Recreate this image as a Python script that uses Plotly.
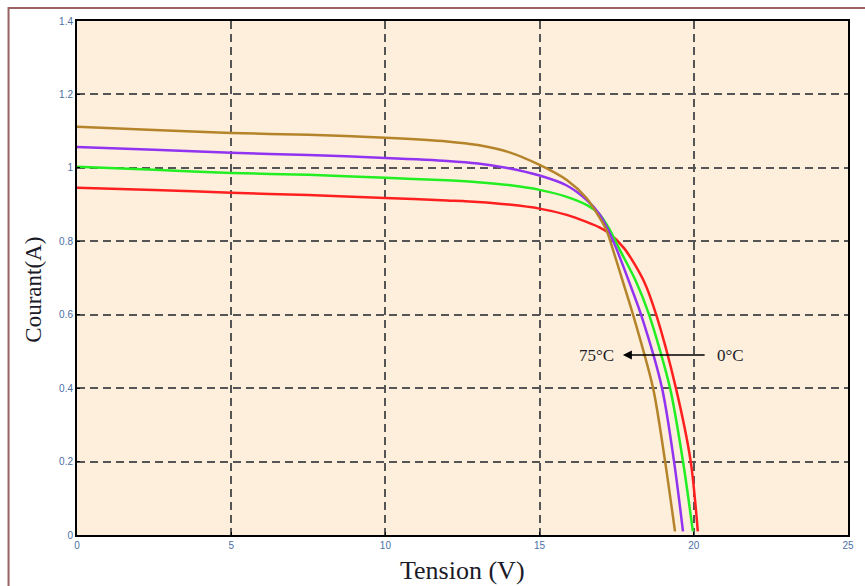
import plotly.graph_objects as go

# Data
v_75 = [0, 2.5, 5, 7.5, 10, 12.0, 13.0, 14.0, 15.0, 15.88, 16.52, 16.94, 17.17, 17.33, 17.7, 18.03, 18.68, 19.07, 19.39]
i_75 = [1.112, 1.103, 1.095, 1.09, 1.082, 1.072, 1.062, 1.043, 1.008, 0.967, 0.918, 0.865, 0.83, 0.79, 0.69, 0.6, 0.4, 0.2, 0.01]

v_50 = [0, 2.5, 5, 7.5, 10, 12.0, 13.0, 14.0, 15.0, 15.88, 16.52, 16.94, 17.2, 17.49, 17.9, 18.29, 18.97, 19.36, 19.65]
i_50 = [1.057, 1.049, 1.041, 1.035, 1.027, 1.019, 1.012, 0.999, 0.979, 0.952, 0.913, 0.874, 0.835, 0.78, 0.69, 0.6, 0.4, 0.2, 0.01]

v_25 = [0, 2.5, 5, 7.5, 10, 12.0, 13.0, 14.0, 15.0, 15.88, 16.52, 16.94, 17.25, 17.58, 18.13, 18.55, 19.23, 19.65, 19.97]
i_25 = [1.003, 0.995, 0.986, 0.981, 0.973, 0.966, 0.961, 0.953, 0.94, 0.921, 0.899, 0.874, 0.835, 0.78, 0.69, 0.6, 0.4, 0.2, 0.01]

v_0 = [0, 2.5, 5, 7.5, 10, 12.0, 13.0, 14.0, 15.0, 15.88, 16.52, 16.94, 17.2, 17.75, 18.39, 18.78, 19.42, 19.9, 20.13]
i_0 = [0.946, 0.94, 0.932, 0.926, 0.918, 0.911, 0.907, 0.9, 0.889, 0.872, 0.853, 0.838, 0.825, 0.78, 0.69, 0.6, 0.4, 0.2, 0.01]

x_ticks = [0, 5, 10, 15, 20, 25]
x_labels = ["0", "5", "10", "15", "20", "25"]
y_ticks = [0, 0.2, 0.4, 0.6, 0.8, 1.0, 1.2, 1.4]
y_labels = ["0", "0.2", "0.4", "0.6", "0.8", "1", "1.2", "1.4"]

series = [
    (v_0, i_0, "#ff1f1f", "0°C"),
    (v_25, i_25, "#22ee22", "25°C"),
    (v_50, i_50, "#9133f0", "50°C"),
    (v_75, i_75, "#b5842a", "75°C"),
]

fig = go.Figure()
for vx, iy, col, name in series:
    fig.add_trace(go.Scatter(x=vx, y=iy, mode="lines", name=name,
                             line=dict(color=col, width=2.5, shape="spline", smoothing=0.8),
                             showlegend=False, hoverinfo="skip"))

tick_font = dict(family="Liberation Sans, Arial, sans-serif", size=10, color="#4a6fa5")
axis_common = dict(
    showgrid=True, gridcolor="#555555", gridwidth=2, griddash="8px,5px",
    showline=True, linecolor="black", linewidth=2, mirror=True,
    zeroline=False, ticks="inside", ticklen=3, tickcolor="black",
    tickfont=tick_font,
)

fig.update_xaxes(range=[0, 25], tickvals=x_ticks, ticktext=x_labels, **axis_common)
fig.update_yaxes(range=[0, 1.4], tickvals=y_ticks, ticktext=y_labels, **axis_common)

serif = "Liberation Serif, DejaVu Serif, serif"
annotations = [
    dict(x=-0.056, y=0.477, xref="paper", yref="paper", text="Courant(A)", showarrow=False,
         textangle=-90, font=dict(family=serif, size=23, color="#1b1b28"), xanchor="center", yanchor="middle"),
    dict(x=0.4994, y=-0.070, xref="paper", yref="paper", text="Tension (V)", showarrow=False,
         font=dict(family=serif, size=26, color="#1b1b28"), xanchor="center", yanchor="middle"),
    dict(x=17.7, y=0.49, xref="x", yref="y", ax=20.4, ay=0.49, axref="x", ayref="y",
         text="", showarrow=True, arrowhead=2, arrowsize=1.2, arrowwidth=1.5, arrowcolor="black"),
    dict(x=16.85, y=0.49, xref="x", yref="y", text="75°C", showarrow=False,
         font=dict(family=serif, size=17, color="#1b1b28")),
    dict(x=21.2, y=0.49, xref="x", yref="y", text="0°C", showarrow=False,
         font=dict(family=serif, size=17, color="#1b1b28")),
]

fig.update_layout(
    width=865, height=586,
    margin=dict(l=77, r=11, t=21, b=51),
    paper_bgcolor="white", plot_bgcolor="#fdefdb",
    annotations=annotations,
    shapes=[dict(type="rect", xref="paper", yref="paper",
                 x0=-0.0888, x1=1.06, y0=-0.12, y1=1.0253,
                 line=dict(color="#9a6262", width=2), layer="below")],
)

fig.write_html("out.html")
